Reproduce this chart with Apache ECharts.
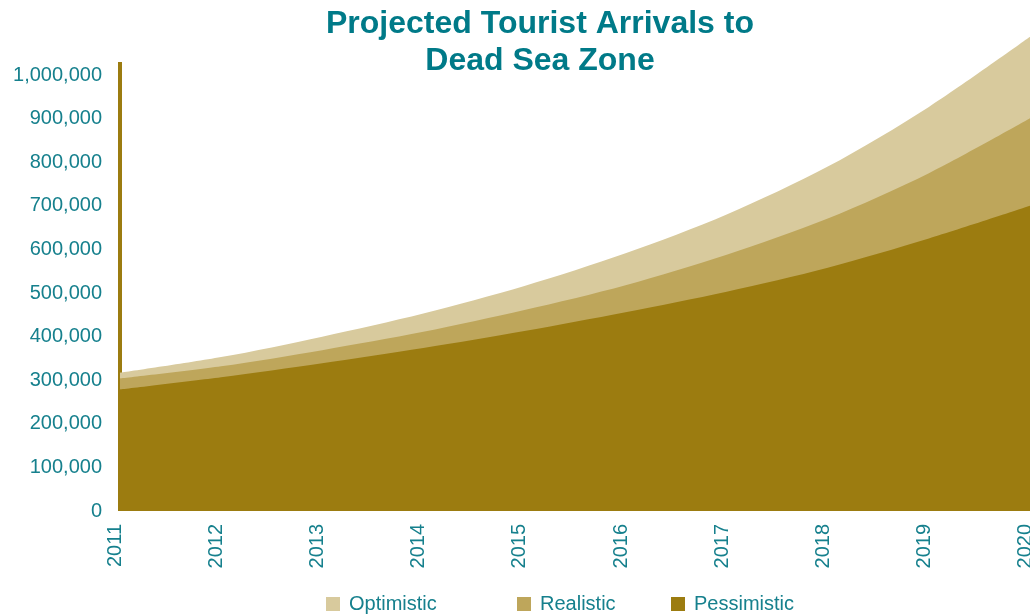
<!DOCTYPE html>
<html>
<head>
<meta charset="utf-8">
<script src="https://cdn.jsdelivr.net/npm/echarts@6/dist/echarts.min.js"></script>
<style>
  html, body { margin: 0; padding: 0; background: #ffffff; }
  #chart { width: 1030px; height: 614px; }
</style>
</head>
<body>
<div id="chart"></div>
<script>
const years = ['2011', '2012', '2013', '2014', '2015', '2016', '2017', '2018', '2019', '2020'];
const optimistic = [317000, 353000, 400000, 453000, 516000, 591000, 680000, 790000, 927000, 1088000];
const realistic = [304000, 332000, 369000, 411000, 461000, 518000, 588000, 671000, 775000, 901000];
const pessimistic = [279000, 307000, 339000, 374000, 413000, 456000, 503000, 558000, 625000, 700000];
const seriesNames = ['Optimistic', 'Realistic', 'Pessimistic'];

const teal = '#16808D';
const colors = { Optimistic: '#D8CA9D', Realistic: '#BEA65B', Pessimistic: '#9C7C10' };

function areaSeries(name, data) {
  return {
    name: name,
    type: 'line',
    data: data,
    smooth: 0.3,
    clip: false,
    showSymbol: false,
    symbol: 'none',
    lineStyle: { width: 0 },
    areaStyle: { color: colors[name], opacity: 1 },
    itemStyle: { color: colors[name] },
    emphasis: { disabled: true }
  };
}

function legendAt(name, left) {
  return {
    data: [name],
    left: left,
    top: 594,
    padding: 0,
    icon: 'rect',
    itemWidth: 14,
    itemHeight: 14,
    textStyle: { color: teal, fontSize: 20, fontFamily: 'Liberation Sans, Arial, sans-serif', padding: [0, 0, 0, 4] }
  };
}

const chart = echarts.init(document.getElementById('chart'), null, { renderer: 'canvas' });
chart.setOption({
  animation: false,
  backgroundColor: '#ffffff',
  title: {
    text: 'Projected Tourist Arrivals to\nDead Sea Zone',
    left: 540,
    top: 6,
    padding: 0,
    textAlign: 'center',
    textStyle: {
      color: '#007A88',
      fontSize: 32,
      fontWeight: 'bold',
      lineHeight: 37,
      fontFamily: 'Liberation Sans, Arial, sans-serif'
    }
  },
  legend: [
    legendAt('Optimistic', 326),
    legendAt('Realistic', 517),
    legendAt('Pessimistic', 671)
  ],
  grid: { left: 120, right: 0, top: 62, bottom: 103, containLabel: false, outerBoundsMode: 'none' },
  xAxis: {
    type: 'category',
    data: years,
    boundaryGap: false,
    axisLine: { show: false },
    axisTick: { show: false },
    axisLabel: {
      rotate: 90,
      margin: 13,
      color: teal,
      fontSize: 20,
      lineHeight: 9,
      verticalAlign: 'bottom',
      fontFamily: 'Liberation Sans, Arial, sans-serif',
      interval: 0,
      hideOverlap: false
    },
    splitLine: { show: false }
  },
  yAxis: {
    type: 'value',
    min: 0,
    max: 1030000,
    interval: 100000,
    axisLine: { show: true, lineStyle: { color: '#9C7C10', width: 4, cap: 'butt' } },
    axisTick: { show: false },
    splitLine: { show: false },
    axisLabel: {
      showMaxLabel: false,
      margin: 18,
      color: teal,
      fontSize: 20,
      fontFamily: 'Liberation Sans, Arial, sans-serif',
      formatter: function (v) { return v > 1000000 ? '' : v.toLocaleString('en-US'); }
    }
  },
  series: [
    areaSeries('Optimistic', optimistic),
    areaSeries('Realistic', realistic),
    areaSeries('Pessimistic', pessimistic)
  ]
});
</script>
</body>
</html>
